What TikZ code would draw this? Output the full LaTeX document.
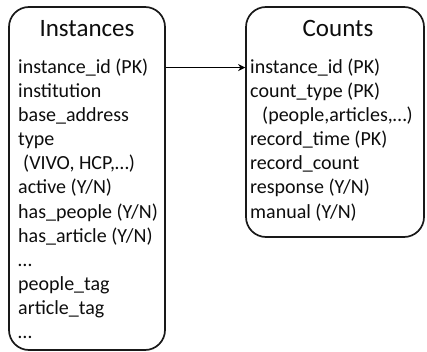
\documentclass[tikz,border=0pt]{standalone}
\usepackage{fontspec}
\setmainfont{Carlito}
\usetikzlibrary{arrows.meta}
\tikzset{
  tablebox/.style={draw=black!90, line width=1.7pt, rounded corners=20pt, inner sep=0pt},
  fieldtext/.style={anchor=base west, inner sep=0pt, text=black!95, font=\fontsize{20}{24}\selectfont},
  titletext/.style={anchor=base, inner sep=0pt, text=black!95, font=\fontsize{25}{30}\selectfont},
  link/.style={line width=1.7pt, -{Stealth[length=7pt,width=7pt]}}
}

\begin{document}
\begin{tikzpicture}[x=1pt, y=-1pt]
	%%%%% START %%%%%
	\useasboundingbox (0,0) rectangle (427,352);
	
	\node[tablebox, minimum width=156pt, minimum height=343pt] (instances) at (87,178.5) {};
	\node[tablebox, minimum width=178pt, minimum height=230pt] (counts) at (335,122) {};
	
	\node[titletext] (instancestitle) at (87,37) {Instances};
	\node[titletext] (countstitle) at (338,37) {Counts};
	
	\foreach \dx/\txt [count=\i from 0] in {0/instance\_id (PK), 0/institution, 0/base\_address, 0/type,
		5/{(VIVO, HCP,…)}, 0/{active (Y/N)}, 0/{has\_people (Y/N)}, 0/{has\_article (Y/N)}, 0/…,
		0/people\_tag, 0/article\_tag, 0/…}
		\node[fieldtext] (inst\i) at (18+\dx, 73.5+24.1*\i) {\txt};
	
	\foreach \dx/\txt [count=\i from 0] in {0/instance\_id (PK), 0/count\_type (PK),
		12/{(people,articles,…)}, 0/record\_time (PK), 0/record\_count, 0/{response (Y/N)}, 0/{manual (Y/N)}}
		\node[fieldtext] (cnt\i) at (250+\dx, 73.5+24.1*\i) {\txt};
	
	\draw[link] (instances.east |- inst0) -- (counts.west |- inst0);
	%%%%% END %%%%%
\end{tikzpicture}
\end{document}
